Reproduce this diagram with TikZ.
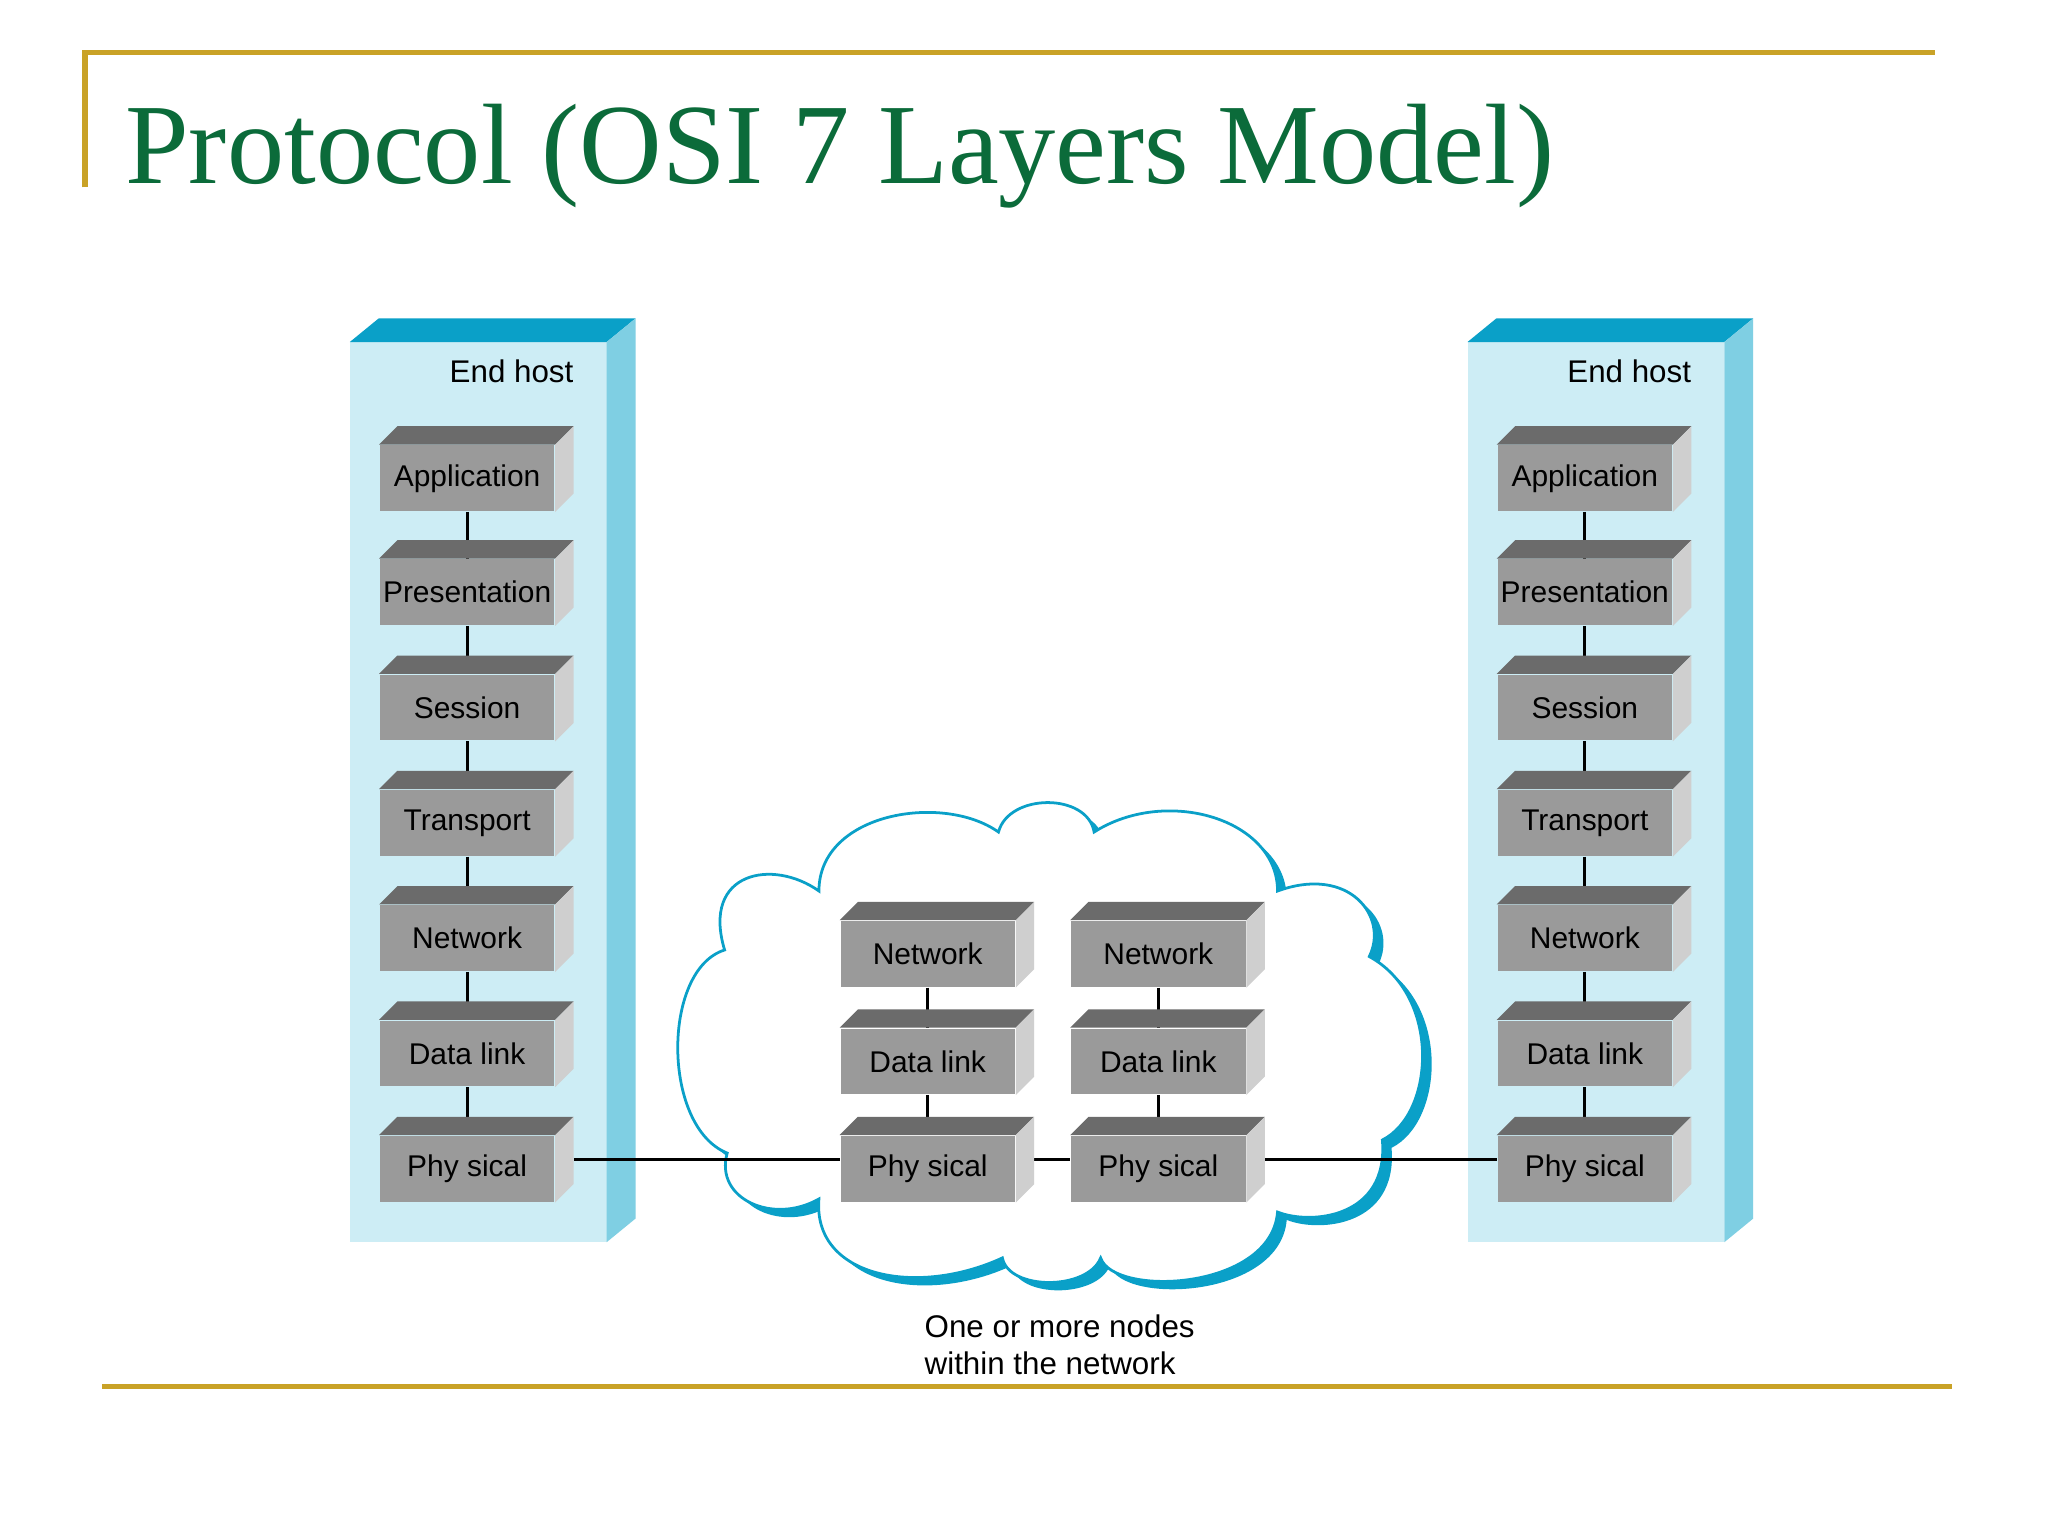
\documentclass[tikz,border=0pt]{standalone}
\usepackage{fontspec}
\setmainfont{Liberation Sans}
\newfontfamily\titlefont{Liberation Serif}
\pgfdeclarelayer{bg}\pgfdeclarelayer{mid}
\pgfsetlayers{bg,mid,main}
\definecolor{gold}{HTML}{C9A227}
\definecolor{tgreen}{HTML}{0B6B3A}
\definecolor{hfront}{HTML}{CDEDF5}
\definecolor{htop}{HTML}{0AA0C8}
\definecolor{hside}{HTML}{7FCFE3}
\definecolor{bfront}{HTML}{9A9A9A}
\definecolor{btop}{HTML}{6B6B6B}
\definecolor{bside}{HTML}{CFCFCF}
\tikzset{
 lay/.style={fill=bfront,minimum width=1.33cm,minimum height=0.5cm,inner sep=0pt,font=\fontsize{6.5}{8}\selectfont},
 conn/.style={black,line width=0.6pt},
}
\newcommand\lbox[4]{%
 \node[lay] (#1) at (#2,#3) {#4};
 \fill[btop] (#1.north west) -- ++(0.14cm,0.14cm) -- ([shift={(0.14cm,0.14cm)}]#1.north east) -- (#1.north east) -- cycle;
 \fill[bside] (#1.north east) -- ++(0.14cm,0.14cm) -- ([shift={(0.14cm,0.14cm)}]#1.south east) -- (#1.south east) -- cycle;
}
\newcommand\hostcol[2]{% #1 x left, #2 name
 \begin{pgfonlayer}{bg}
 \fill[hfront] (#1,261) rectangle ++(196,687);
 \fill[htop] (#1,261) -- ++(196,0) -- ++(22,-18) -- ++(-196,0) -- cycle;
 \fill[hside] (#1+196,261) -- ++(22,-18) -- ++(0,687) -- ++(-22,18) -- cycle;
 \end{pgfonlayer}
 \node[anchor=east,font=\fontsize{6.8}{8}\selectfont] (#2h) at (#1+183,283) {End host};
 \lbox{#2a}{#1+89.5}{365}{Application}
 \lbox{#2p}{#1+89.5}{452}{Presentation}
 \lbox{#2s}{#1+89.5}{540}{Session}
 \lbox{#2t}{#1+89.5}{628}{Transport}
 \lbox{#2n}{#1+89.5}{716}{Network}
 \lbox{#2d}{#1+89.5}{804}{Data link}
 \lbox{#2y}{#1+89.5}{892}{Phy sical}
 \begin{pgfonlayer}{mid}
 \draw[conn] (#2a) -- (#2p); \draw[conn] (#2p) -- (#2s); \draw[conn] (#2s) -- (#2t);
 \draw[conn] (#2t) -- (#2n); \draw[conn] (#2n) -- (#2d); \draw[conn] (#2d) -- (#2y);
 \end{pgfonlayer}
}
\begin{document}
\begin{tikzpicture}[x=0.01cm,y=-0.01cm]
\useasboundingbox (0,0) rectangle (1563,1172);
\begin{pgfonlayer}{bg}
\fill[white] (0,0) rectangle (1563,1172);
\end{pgfonlayer}
\draw[gold,line width=1.2pt] (65,143) -- (65,40) -- (1477,40);
\draw[gold,line width=1.2pt] (78,1058) -- (1490,1058);
\node[anchor=base west,inner sep=0pt,text=tgreen] (title) at (95,140) {\resizebox{10.9cm}{!}{\titlefont Protocol (OSI 7 Layers Model)}};
% cloud
\def\cloudpath{(553,725) .. controls (535,665) and (590,655) .. (625,680)
 .. controls (625,620) and (720,605) .. (762,635)
 .. controls (770,605) and (830,605) .. (835,635)
 .. controls (890,600) and (975,625) .. (975,680)
 .. controls (1030,660) and (1060,700) .. (1045,730)
 .. controls (1100,760) and (1095,850) .. (1055,870)
 .. controls (1060,930) and (1000,935) .. (975,925)
 .. controls (970,985) and (850,990) .. (840,960)
 .. controls (830,985) and (770,985) .. (765,960)
 .. controls (700,990) and (620,975) .. (625,915)
 .. controls (590,935) and (545,915) .. (555,880)
 .. controls (505,860) and (505,740) .. (553,725) -- cycle}
\begin{pgfonlayer}{bg}
\fill[htop,shift={(7,6)}] \cloudpath;
\filldraw[fill=white,draw=htop,line width=0.6pt] \cloudpath;
\end{pgfonlayer}
\hostcol{267}{l}
\hostcol{1120}{r}
\lbox{an}{708}{728}{Network}
\lbox{ad}{708}{810}{Data link}
\lbox{ay}{708}{892}{Phy sical}
\lbox{bn}{884}{728}{Network}
\lbox{bd}{884}{810}{Data link}
\lbox{by}{884}{892}{Phy sical}
\begin{pgfonlayer}{mid}
\draw[conn] (an) -- (ad); \draw[conn] (ad) -- (ay);
\draw[conn] (bn) -- (bd); \draw[conn] (bd) -- (by);
\draw[conn] ([shift={(0.14cm,0.07cm)}]ly.east) -- ([yshift=0.07cm]ay.west);
\draw[conn] ([shift={(0.14cm,0.07cm)}]ay.east) -- ([yshift=0.07cm]by.west);
\draw[conn] ([shift={(0.14cm,0.07cm)}]by.east) -- ([yshift=0.07cm]ry.west);
\end{pgfonlayer}
\node[anchor=north west,align=left,inner sep=0pt,font=\fontsize{6.8}{8}\selectfont] (cap) at (705,1003) {One or more nodes\\within the network};
\end{tikzpicture}
\end{document}
